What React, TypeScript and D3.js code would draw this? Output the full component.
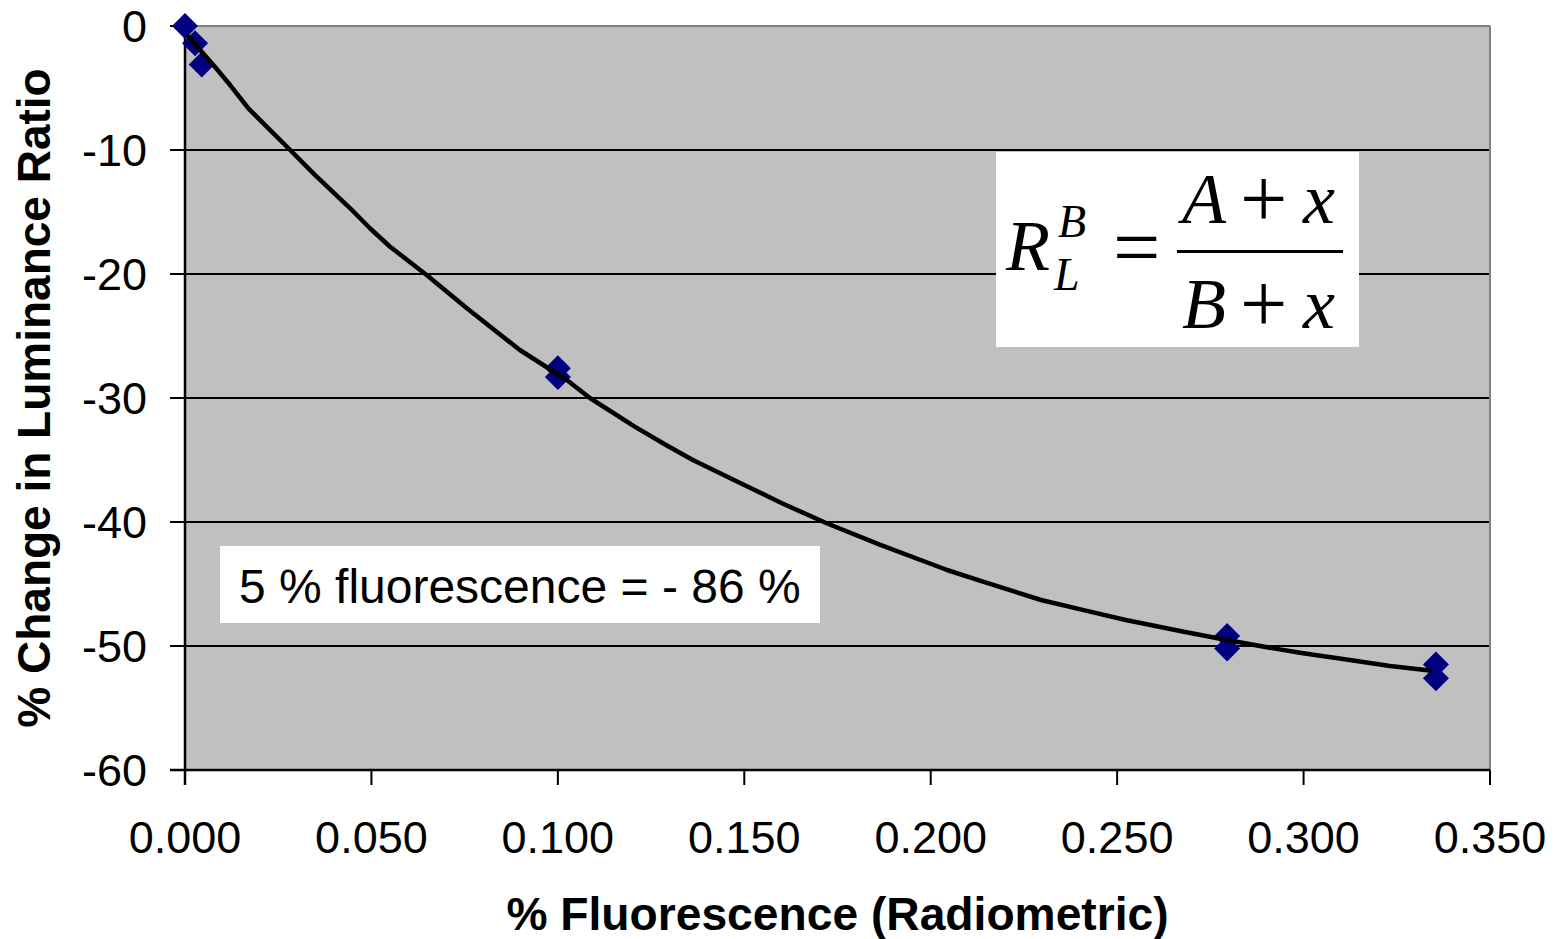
import React from "react";
import * as d3 from "d3";

// Measured data points (x = % fluorescence, y = % change in luminance ratio)
const pointX = [0.0, 0.0027, 0.0045, 0.1, 0.1, 0.2795, 0.2795, 0.3355, 0.3355];
const pointY = [0.0, -1.4, -3.1, -27.6, -28.3, -49.2, -50.2, -51.5, -52.6];

// Fitted curve
const curveX = [0.0005, 0.0076, 0.0121, 0.017, 0.0219, 0.0282, 0.0349, 0.0443, 0.0496, 0.055, 0.0648, 0.0756, 0.0898, 0.1024, 0.1087, 0.1206, 0.129, 0.1362, 0.1482, 0.1601, 0.1721, 0.1865, 0.2044, 0.214, 0.2296, 0.2416, 0.2523, 0.2679, 0.2794, 0.2919, 0.2999, 0.3124, 0.3232, 0.3344];
const curveY = [-0.7, -3.15, -4.76, -6.64, -8.12, -10.0, -12.02, -14.7, -16.31, -17.8, -20.08, -22.77, -26.13, -28.55, -30.02, -32.31, -33.79, -35.0, -36.75, -38.49, -40.1, -41.85, -43.87, -44.81, -46.29, -47.15, -47.9, -48.85, -49.52, -50.19, -50.59, -51.13, -51.61, -51.99];

const xTicks = [0, 0.05, 0.1, 0.15, 0.2, 0.25, 0.3, 0.35];
const yTicks = [0, -10, -20, -30, -40, -50, -60];

const xTitle = "% Fluorescence (Radiometric)";
const yTitle = "% Change in Luminance Ratio";
const note = "5 % fluorescence = - 86 %";

const W = 1555;
const H = 939;
const L = 185, R = 1490, T = 26, B = 770;

export default function App() {
  const x = d3.scaleLinear().domain([0, 0.35]).range([L, R]);
  const y = d3.scaleLinear().domain([-60, 0]).range([B, T]);
  const line = d3
    .line<number>()
    .x((_, i) => x(curveX[i]))
    .y((_, i) => y(curveY[i]))
    .curve(d3.curveLinear);
  const sans = "Liberation Sans, Arial, sans-serif";
  const serif = "Liberation Serif, Times New Roman, serif";
  const ms = 13;
  const diamond = (cx: number, cy: number) =>
    `M${cx},${cy - ms}L${cx + ms},${cy}L${cx},${cy + ms}L${cx - ms},${cy}Z`;

  return (
    <svg
      width={W}
      height={H}
      style={{ position: "absolute", left: 0, top: 0, background: "#fff" }}
    >
      <rect x={0} y={0} width={W} height={H} fill="#fff" />
      <rect x={L} y={T} width={R - L} height={B - T} fill="#C0C0C0" />
      {/* gridlines */}
      {yTicks.filter((t) => t !== 0 && t !== -60).map((t) => (
        <line key={t} x1={L} x2={R} y1={y(t)} y2={y(t)} stroke="#000" strokeWidth={2} />
      ))}
      {/* top/right border */}
      <line x1={L} x2={R} y1={T} y2={T} stroke="#808080" strokeWidth={2} />
      <line x1={R} x2={R} y1={T} y2={B} stroke="#808080" strokeWidth={2} />
      {/* axes */}
      <line x1={L} x2={L} y1={T} y2={B + 15} stroke="#000" strokeWidth={2.5} />
      <line x1={L - 15} x2={R} y1={B} y2={B} stroke="#000" strokeWidth={2.5} />
      {yTicks.map((t) => (
        <g key={t}>
          <line x1={L - 15} x2={L} y1={y(t)} y2={y(t)} stroke="#000" strokeWidth={2} />
          <text
            x={L - 38}
            y={y(t)}
            dy="0.36em"
            textAnchor="end"
            fontFamily={sans}
            fontSize={45}
            fill="#000"
          >
            {String(t)}
          </text>
        </g>
      ))}
      {xTicks.map((t) => (
        <g key={t}>
          <line x1={x(t)} x2={x(t)} y1={B} y2={B + 15} stroke="#000" strokeWidth={2} />
          <text
            x={x(t)}
            y={853}
            textAnchor="middle"
            fontFamily={sans}
            fontSize={45}
            fill="#000"
          >
            {d3.format(".3f")(t)}
          </text>
        </g>
      ))}
      {/* titles */}
      <text
        x={(L + R) / 2}
        y={930}
        textAnchor="middle"
        fontFamily={sans}
        fontWeight="bold"
        fontSize={46.2}
        fill="#000"
      >
        {xTitle}
      </text>
      <text
        transform={`translate(50,${(T + B) / 2}) rotate(-90)`}
        textAnchor="middle"
        fontFamily={sans}
        fontWeight="bold"
        fontSize={46}
        fill="#000"
      >
        {yTitle}
      </text>
      {/* markers */}
      {pointX.map((px, i) => (
        <path key={i} d={diamond(x(px), y(pointY[i]))} fill="#000080" />
      ))}
      {/* fitted curve */}
      <path d={line(curveX) || ""} fill="none" stroke="#000" strokeWidth={4.5} strokeLinejoin="round" />
      {/* note box */}
      <rect x={220} y={546} width={600} height={77} fill="#fff" />
      <text x={239} y={603} fontFamily={sans} fontSize={48} fill="#000">
        {note}
      </text>
      {/* formula box */}
      <rect x={996} y={152} width={363} height={195} fill="#fff" />
      <g fontFamily={serif} fill="#000">
        <text x={1006} y={270} fontSize={72} fontStyle="italic">R</text>
        <text x={1058} y={237} fontSize={46} fontStyle="italic">B</text>
        <text x={1054} y={290} fontSize={46} fontStyle="italic">L</text>
        <text x={1113} y={276} fontSize={84}>=</text>
        <text x={1182} y={223} fontSize={72} fontStyle="italic">A</text>
        <text x={1240} y={227} fontSize={84}>+</text>
        <text x={1303} y={223} fontSize={72} fontStyle="italic">x</text>
        <line x1={1177} x2={1343} y1={251.5} y2={251.5} stroke="#000" strokeWidth={3} />
        <text x={1182} y={328} fontSize={72} fontStyle="italic">B</text>
        <text x={1240} y={332} fontSize={84}>+</text>
        <text x={1303} y={328} fontSize={72} fontStyle="italic">x</text>
      </g>
    </svg>
  );
}
